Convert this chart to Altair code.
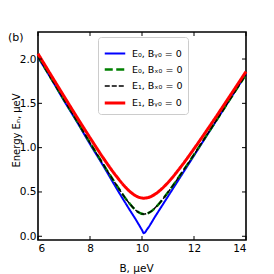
import altair as alt
import pandas as pd

# Data
B_blue = [6, 6.5, 7, 7.5, 8, 8.5, 9, 9.5, 9.8, 10.0, 10.07, 10.2, 10.5, 11, 11.5, 12, 12.5, 13, 13.5, 14]
E_blue = [2.02, 1.78, 1.53, 1.29, 1.04, 0.80, 0.55, 0.31, 0.17, 0.07, 0.035, 0.08, 0.22, 0.45, 0.68, 0.91, 1.14, 1.37, 1.60, 1.83]

B_mid = [6, 6.5, 7, 7.5, 8, 8.5, 9, 9.5, 9.8, 10.07, 10.3, 10.6, 11, 11.5, 12, 12.5, 13, 13.5, 14]
E_green = [2.03, 1.785, 1.54, 1.30, 1.055, 0.816, 0.586, 0.377, 0.284, 0.25, 0.272, 0.349, 0.496, 0.704, 0.922, 1.146, 1.371, 1.598, 1.825]
E_black = [2.03, 1.785, 1.54, 1.30, 1.055, 0.816, 0.586, 0.377, 0.284, 0.25, 0.272, 0.349, 0.496, 0.704, 0.922, 1.146, 1.371, 1.598, 1.825]
E_red = [2.06, 1.819, 1.58, 1.343, 1.112, 0.888, 0.683, 0.514, 0.45, 0.43, 0.443, 0.495, 0.607, 0.786, 0.987, 1.198, 1.415, 1.636, 1.858]

labels = ["E₀, Bᵧ₀ = 0", "E₀, Bₓ₀ = 0", "E₁, Bₓ₀ = 0", "E₁, Bᵧ₀ = 0"]
colors = ["#0000ff", "#008000", "#000000", "#ff0000"]
dashes = [[1, 0], [8, 3.5], [5, 2], [1, 0]]
widths = [2, 2.4, 1.4, 3]

x_ticks = [6, 8, 10, 12, 14]
y_ticks = [0.0, 0.5, 1.0, 1.5, 2.0]

rows = []
for b, e in zip(B_blue, E_blue):
    rows.append({"B": b, "E": e, "series": labels[0]})
for b, e in zip(B_mid, E_green):
    rows.append({"B": b, "E": e, "series": labels[1]})
for b, e in zip(B_mid, E_black):
    rows.append({"B": b, "E": e, "series": labels[2]})
for b, e in zip(B_mid, E_red):
    rows.append({"B": b, "E": e, "series": labels[3]})
df = pd.DataFrame(rows)

W, H = 208, 208
xscale = alt.Scale(domain=[6, 14], nice=False, zero=False)
yscale = alt.Scale(domain=[-0.042, 2.305], nice=False, zero=False)

xaxis = alt.Axis(values=x_ticks, format="d", title="B, μeV", grid=False,
                 domain=False, ticks=False, labelPadding=3, titlePadding=2,
                 titleX=98, titleY=31, titleBaseline="alphabetic")
yaxis = alt.Axis(values=y_ticks, format=".1f", title="Energy Eₙ, μeV", grid=False,
                 domain=False, ticks=False, labelPadding=2, titlePadding=2,
                 titleX=-17, titleY=98, titleBaseline="bottom", titleFontSize=10)

legend = alt.Legend(
    title=None, orient="none", legendX=60, legendY=5,
    symbolType="stroke", symbolSize=420, rowPadding=-6,
    labelFont="DejaVu Sans", labelFontSize=9.5, labelColor="black",
    padding=5, strokeColor="#cccccc", fillColor="white", cornerRadius=3,
    labelOffset=5,
)

base = alt.Chart(df).encode(
    x=alt.X("B:Q", scale=xscale, axis=xaxis),
    y=alt.Y("E:Q", scale=yscale, axis=yaxis),
    color=alt.Color("series:N", scale=alt.Scale(domain=labels, range=colors), legend=legend),
    strokeDash=alt.StrokeDash("series:N", scale=alt.Scale(domain=labels, range=dashes), legend=legend),
    strokeWidth=alt.StrokeWidth("series:N", scale=alt.Scale(type="ordinal", domain=labels, range=widths), legend=legend),
)

line_layers = [
    base.transform_filter(alt.datum.series == lab).mark_line(interpolate="monotone")
    for lab in labels
]

xt = pd.DataFrame({"v": x_ticks})
yt = pd.DataFrame({"v": y_ticks})
tick_bottom = alt.Chart(xt).mark_rule(color="black", strokeWidth=1).encode(
    x=alt.X("v:Q", scale=xscale, axis=xaxis), y=alt.value(H - 4), y2=alt.value(H))
tick_top = alt.Chart(xt).mark_rule(color="black", strokeWidth=1).encode(
    x=alt.X("v:Q", scale=xscale, axis=xaxis), y=alt.value(0), y2=alt.value(4))
tick_left = alt.Chart(yt).mark_rule(color="black", strokeWidth=1).encode(
    y=alt.Y("v:Q", scale=yscale, axis=yaxis), x=alt.value(0), x2=alt.value(4))
tick_right = alt.Chart(yt).mark_rule(color="black", strokeWidth=1).encode(
    y=alt.Y("v:Q", scale=yscale, axis=yaxis), x=alt.value(W - 4), x2=alt.value(W))

panel = alt.Chart(pd.DataFrame({"t": ["(b)"]})).mark_text(
    align="left", baseline="middle", font="DejaVu Sans", fontSize=11, color="black"
).encode(text="t:N", x=alt.value(-30), y=alt.value(6))

chart = alt.layer(
    *line_layers, tick_bottom, tick_top, tick_left, tick_right, panel
).properties(
    width=W, height=H,
    autosize=alt.AutoSizeParams(type="none"),
    padding={"left": 30, "top": 24, "right": 20, "bottom": 34},
).configure_view(
    stroke="black", strokeWidth=1.6
).configure_axis(
    labelFont="DejaVu Sans", labelFontSize=10.5, labelColor="black",
    titleFont="DejaVu Sans", titleFontSize=10.5, titleFontWeight="normal", titleColor="black",
)

chart.save("out.html", embed_options={"renderer": "svg", "actions": False})
